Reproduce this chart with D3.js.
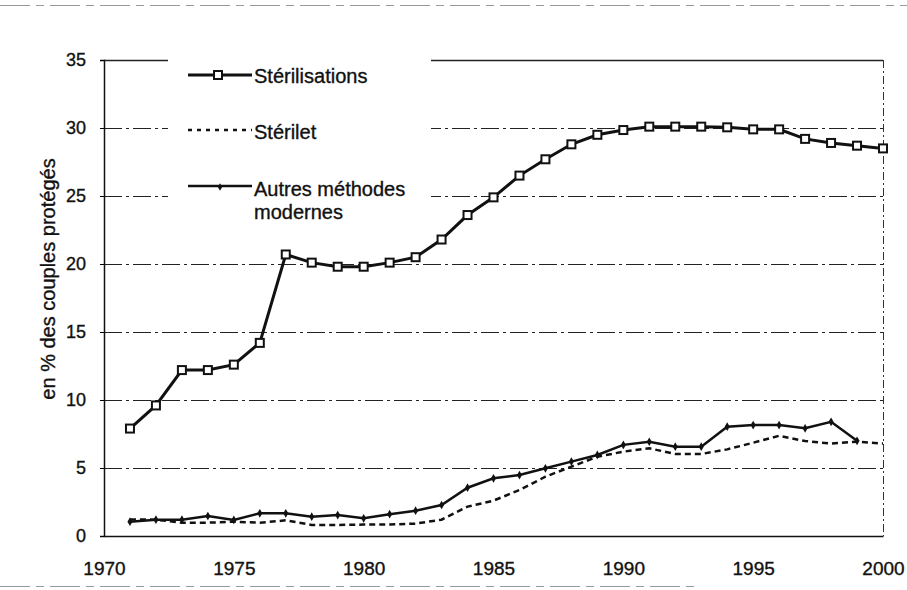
<!DOCTYPE html>
<html>
<head>
<meta charset="utf-8">
<script src="https://cdn.jsdelivr.net/npm/d3@7"></script>
<style>
  body { margin: 0; background: #fff; }
  text { font-family: "Liberation Sans", Arial, sans-serif; fill: #111; stroke: #111; stroke-width: 0.35px; }
</style>
</head>
<body>
<svg id="chart" width="907" height="590"></svg>
<script>
const years = d3.range(1971, 2001);

// en % des couples protégés
const sterilisations = [7.9, 9.6, 12.2, 12.2, 12.6, 14.2, 20.7, 20.1, 19.8, 19.8,
  20.1, 20.5, 21.8, 23.6, 24.9, 26.5, 27.7, 28.8, 29.5, 29.85,
  30.1, 30.1, 30.1, 30.05, 29.9, 29.9, 29.2, 28.9, 28.7, 28.5];
const sterilet = [1.22, 1.2, 0.98, 0.98, 1.05, 0.98, 1.15, 0.81, 0.81, 0.84,
  0.84, 0.91, 1.2, 2.16, 2.6, 3.38, 4.36, 5.1, 5.83, 6.2,
  6.45, 6.03, 6.03, 6.37, 6.86, 7.37, 6.98, 6.8, 6.93, 6.8];
const autres = [1.05, 1.2, 1.2, 1.47, 1.18, 1.67, 1.67, 1.42, 1.54, 1.3,
  1.6, 1.86, 2.28, 3.55, 4.24, 4.48, 4.98, 5.47, 5.96, 6.7,
  6.93, 6.57, 6.57, 8.04, 8.16, 8.16, 7.92, 8.4, 7.0];

const yTicks = [0, 5, 10, 15, 20, 25, 30, 35];
const xTicks = [1970, 1975, 1980, 1985, 1990, 1995, 2000];
const legendLabels = ["Stérilisations", "Stérilet", ["Autres méthodes", "modernes"]];

const svg = d3.select("#chart");
const x = d3.scaleLinear().domain([1970, 2000]).range([104, 883]);
const y = d3.scaleLinear().domain([0, 35]).range([536, 60]);

// scan edge marks
svg.append("line").attr("x1", 0).attr("x2", 907).attr("y1", 5.5).attr("y2", 5.5)
  .attr("stroke", "#999").attr("stroke-dasharray", "30,6,8,6");
svg.append("line").attr("x1", 0).attr("x2", 700).attr("y1", 586.5).attr("y2", 586.5)
  .attr("stroke", "#999").attr("stroke-dasharray", "30,6,8,6");

// gridlines
svg.append("g")
  .selectAll("line")
  .data(yTicks.filter(d => d > 0))
  .join("line")
    .attr("x1", x(1970)).attr("x2", x(2000))
    .attr("y1", d => y(d) + 0.5).attr("y2", d => y(d) + 0.5)
    .attr("stroke", "#222")
    .attr("stroke-width", d => d == 35 ? 1.5 : 1)
    .attr("stroke-dasharray", d => d == 35 ? null : "18,4,3,4");

// right edge (dashed)
svg.append("line")
  .attr("x1", x(2000) + 0.5).attr("x2", x(2000) + 0.5).attr("y1", y(35)).attr("y2", y(0))
  .attr("stroke", "#333").attr("stroke-dasharray", "8,3,2,3");

// y axis
const yAxis = svg.append("g")
  .attr("transform", `translate(${x(1970)},0)`)
  .call(d3.axisLeft(y).tickValues(yTicks).tickSize(4).tickPadding(14));
yAxis.select(".domain").attr("stroke", "#111").attr("stroke-width", 1.5);
yAxis.selectAll("text").style("font-size", "18px");

// x axis
const xAxis = svg.append("g")
  .attr("transform", `translate(0,${y(0)})`)
  .call(d3.axisBottom(x).tickValues(xTicks).tickSize(0).tickPadding(26).tickFormat(d3.format("d")));
xAxis.select(".domain").attr("stroke", "#111").attr("stroke-width", 1.5);
xAxis.selectAll("text").style("font-size", "19px");

// y axis title
svg.append("text")
  .attr("transform", "translate(55,279) rotate(-90)")
  .attr("text-anchor", "middle")
  .style("font-size", "20px")
  .text("en % des couples protégés");

// legend box (hides gridlines)
svg.append("rect")
  .attr("x", 168).attr("y", 55).attr("width", 263).attr("height", 180)
  .attr("fill", "#fff");

const line = d3.line().x((d, i) => x(years[i])).y(d => y(d));

// Stérilet
svg.append("path")
  .datum(sterilet)
  .attr("d", line)
  .attr("fill", "none").attr("stroke", "#111")
  .attr("stroke-width", 2.5).attr("stroke-dasharray", "6,4");

// Autres méthodes modernes
svg.append("path")
  .datum(autres)
  .attr("d", line)
  .attr("fill", "none").attr("stroke", "#111").attr("stroke-width", 2.5);
svg.append("g")
  .selectAll("path")
  .data(autres)
  .join("path")
    .attr("d", d3.symbol(d3.symbolDiamond, 22))
    .attr("transform", (d, i) => `translate(${x(years[i])},${y(d)})`)
    .attr("fill", "#111");

// Stérilisations
svg.append("path")
  .datum(sterilisations)
  .attr("d", line)
  .attr("fill", "none").attr("stroke", "#111").attr("stroke-width", 3);
svg.append("g")
  .selectAll("rect")
  .data(sterilisations)
  .join("rect")
    .attr("x", (d, i) => x(years[i]) - 4)
    .attr("y", d => y(d) - 4)
    .attr("width", 8).attr("height", 8)
    .attr("fill", "#fff").attr("stroke", "#111").attr("stroke-width", 2);

// legend
const lg = svg.append("g");
lg.append("line").attr("x1", 188).attr("x2", 252).attr("y1", 75).attr("y2", 75)
  .attr("stroke", "#111").attr("stroke-width", 3);
lg.append("rect").attr("x", 214).attr("y", 71).attr("width", 8).attr("height", 8)
  .attr("fill", "#fff").attr("stroke", "#111").attr("stroke-width", 2);
lg.append("line").attr("x1", 188).attr("x2", 252).attr("y1", 130).attr("y2", 130)
  .attr("stroke", "#111").attr("stroke-width", 2.5).attr("stroke-dasharray", "4,5");
lg.append("line").attr("x1", 188).attr("x2", 252).attr("y1", 186).attr("y2", 186)
  .attr("stroke", "#111").attr("stroke-width", 2.5);
lg.append("path").attr("d", d3.symbol(d3.symbolDiamond, 16))
  .attr("transform", "translate(220,187)").attr("fill", "#111");

lg.append("text").attr("x", 254).attr("y", 83).style("font-size", "20px").text(legendLabels[0]);
lg.append("text").attr("x", 254).attr("y", 139).style("font-size", "20px").text(legendLabels[1]);
lg.append("text").attr("x", 254).attr("y", 196).style("font-size", "20px")
  .selectAll("tspan")
  .data(legendLabels[2])
  .join("tspan")
    .attr("x", 254)
    .attr("dy", (d, i) => i == 0 ? 0 : 23)
    .text(d => d);
</script>
</body>
</html>
